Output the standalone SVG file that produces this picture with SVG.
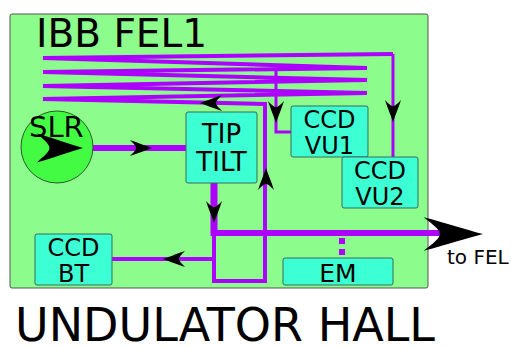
<svg xmlns="http://www.w3.org/2000/svg" xmlns:xlink="http://www.w3.org/1999/xlink" width="515" height="348" viewBox="0 0 515 348">
<style>
.t{font-family:"DejaVu Sans","Liberation Sans",sans-serif;fill:#000}
.box{fill:#3cffd4;stroke:#3a6a5a;stroke-width:1}
.ln{fill:none;stroke:#ae00ff;stroke-linejoin:miter}
</style>
<defs>
<path id="ah" d="M0,0 C-6,-2 -13,-5 -22,-8 C-18,-4 -16,-2 -16,0 C-16,2 -18,4 -22,8 C-13,5 -6,2 0,0 Z" fill="#000"/>
</defs>
<rect id="hall" x="10" y="14" width="418" height="274" rx="2" fill="#8cfc8c" stroke="#555" stroke-width="1"/>
<text class="t" x="36" y="47" font-size="39">IBB FEL1</text>
<g id="connectors">
<polyline class="ln" stroke-width="4" points="265,104 43,99 367,93 43,86 367,80 43,72 367,68 43,58 393,54"/>
<polyline class="ln" stroke-width="3" points="393,54 393,158"/>
<polyline class="ln" stroke-width="3" points="276,68 276,132 291,132"/>
<line class="ln" stroke-width="6" x1="57" y1="148" x2="186" y2="148"/>
<line class="ln" stroke-width="7" x1="214" y1="183" x2="214" y2="236"/>
<line class="ln" stroke-width="6" x1="211" y1="233" x2="442" y2="233"/>
<polyline class="ln" stroke-width="4" points="214,236 214,281 265,281 265,102"/>
<line class="ln" stroke-width="4" x1="214" y1="259" x2="112" y2="259"/>
<line class="ln" stroke-width="6" stroke-dasharray="6,5" x1="342" y1="238" x2="342" y2="258"/>
<use xlink:href="#ah" transform="translate(200,103) rotate(180)"/>
<use xlink:href="#ah" transform="translate(276,123) rotate(90)"/>
<use xlink:href="#ah" transform="translate(393,122) rotate(90)"/>
<use xlink:href="#ah" transform="translate(152,148)"/>
<use xlink:href="#ah" transform="translate(214,223) rotate(90)"/>
<use xlink:href="#ah" transform="translate(266,168) rotate(-90)"/>
<use xlink:href="#ah" transform="translate(163,259) rotate(180)"/>
<use xlink:href="#ah" transform="translate(483,234) scale(2.7,2.1)"/>
</g>
<g id="slr">
<circle cx="57" cy="147" r="36" fill="#44fb44" stroke="#2a5a2a" stroke-width="1"/>
<text class="t" x="29" y="137" font-size="29">SLR</text>
<use xlink:href="#ah" transform="translate(83,148) scale(2.1,1.8)"/>
</g>
<g id="tiptilt">
<rect class="box" x="186" y="112" width="71" height="71" rx="2"/>
<text class="t" x="221.5" y="143" font-size="26" text-anchor="middle">TIP</text>
<text class="t" x="221.5" y="171" font-size="26" text-anchor="middle">TILT</text>
</g>
<g id="ccdvu1">
<rect class="box" x="291" y="106" width="77" height="51" rx="2"/>
<text class="t" x="329.5" y="128" font-size="24" text-anchor="middle">CCD</text>
<text class="t" x="329.5" y="154" font-size="24" text-anchor="middle">VU1</text>
</g>
<g id="ccdvu2">
<rect class="box" x="342" y="157" width="76" height="51" rx="2"/>
<text class="t" x="380" y="179" font-size="24" text-anchor="middle">CCD</text>
<text class="t" x="380" y="205" font-size="24" text-anchor="middle">VU2</text>
</g>
<g id="ccdbt">
<rect class="box" x="35" y="234" width="77" height="51" rx="2"/>
<text class="t" x="73.5" y="256" font-size="24" text-anchor="middle">CCD</text>
<text class="t" x="73.5" y="282" font-size="24" text-anchor="middle">BT</text>
</g>
<g id="em">
<rect class="box" x="283" y="258" width="110" height="27" rx="2"/>
<text class="t" x="338" y="282" font-size="25" text-anchor="middle">EM</text>
</g>
<text class="t" x="447" y="264" font-size="20">to FEL</text>
<text class="t" x="15" y="341" font-size="46">UNDULATOR HALL</text>
</svg>
